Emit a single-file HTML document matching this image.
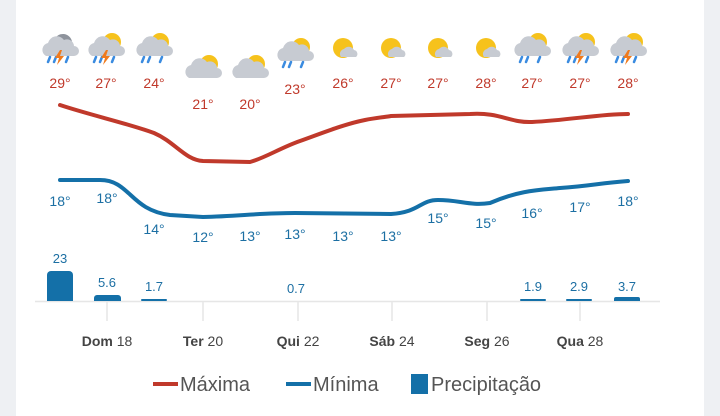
<!DOCTYPE html><html><head><meta charset="utf-8"><style>
body{margin:0;width:720px;height:416px;background:#fff;overflow:hidden;font-family:"Liberation Sans",sans-serif;position:relative}
.g{position:absolute;top:0;height:416px;background:#eef0f3}
</style></head><body>
<div class="g" style="left:0;width:16px"></div><div class="g" style="left:704px;width:16px"></div>
<svg width="720" height="416" style="position:absolute;left:0;top:0">
<defs>
<g id="sun"><circle cx="6" cy="-6" r="9" fill="#f6c21c"/></g>
<g id="cl"><path d="M-14 8 a7 7 0 0 1 2-13 a9 9 0 0 1 16-3 a7 7 0 0 1 10 6 a5 5 0 0 1 0 10z" fill="#c7cbd2"/></g>
<g id="rain"><path d="M-10 9l-2 5M-4 9l-2 5M8 9l-2 5" stroke="#3a8be0" stroke-width="2.5" stroke-linecap="round"/></g>
<g id="bolt"><path d="M0 2l-5 8h4l-2 7 7-9h-4l2-6z" fill="#f07a1c"/></g>
</defs>
<g>
<g transform="translate(60,48)"><path d="M-6 -6 a8 8 0 0 1 18 2 a5 5 0 0 1 0 8z" fill="#8e939c"/><use href="#cl"/><use href="#rain"/><use href="#bolt"/></g>
<g transform="translate(106,48)"><use href="#sun"/><use href="#cl"/><use href="#rain"/><use href="#bolt"/></g>
<g transform="translate(154,48)"><use href="#sun"/><use href="#cl"/><use href="#rain"/></g>
<g transform="translate(203,70)"><use href="#sun"/><use href="#cl"/></g>
<g transform="translate(250,70)"><use href="#sun"/><use href="#cl"/></g>
<g transform="translate(295,53)"><use href="#sun"/><use href="#cl"/><use href="#rain"/></g>
<g transform="translate(343,48)"><circle cx="0" cy="0" r="10" fill="#f6c21c"/><path d="M-2 9 a5 5 0 0 1 3-8 a6 6 0 0 1 10 1 a4 4 0 0 1 2 7z" fill="#c7cbd2"/></g>
<g transform="translate(391,48)"><circle cx="0" cy="0" r="10" fill="#f6c21c"/><path d="M-2 9 a5 5 0 0 1 3-8 a6 6 0 0 1 10 1 a4 4 0 0 1 2 7z" fill="#c7cbd2"/></g>
<g transform="translate(438,48)"><circle cx="0" cy="0" r="10" fill="#f6c21c"/><path d="M-2 9 a5 5 0 0 1 3-8 a6 6 0 0 1 10 1 a4 4 0 0 1 2 7z" fill="#c7cbd2"/></g>
<g transform="translate(486,48)"><circle cx="0" cy="0" r="10" fill="#f6c21c"/><path d="M-2 9 a5 5 0 0 1 3-8 a6 6 0 0 1 10 1 a4 4 0 0 1 2 7z" fill="#c7cbd2"/></g>
<g transform="translate(532,48)"><use href="#sun"/><use href="#cl"/><use href="#rain"/></g>
<g transform="translate(580,48)"><use href="#sun"/><use href="#cl"/><use href="#rain"/><use href="#bolt"/></g>
<g transform="translate(628,48)"><use href="#sun"/><use href="#cl"/><use href="#rain"/><use href="#bolt"/></g>
</g>
<g font-size="14" fill="#c0392b" text-anchor="middle">
<text x="60" y="88">29°</text><text x="106" y="88">27°</text><text x="154" y="88">24°</text><text x="203" y="109">21°</text><text x="250" y="109">20°</text><text x="295" y="94">23°</text><text x="343" y="88">26°</text><text x="391" y="88">27°</text><text x="438" y="88">27°</text><text x="486" y="88">28°</text><text x="532" y="88">27°</text><text x="580" y="88">27°</text><text x="628" y="88">28°</text>
</g>
<path d="M60 105 C90 115,130 124,154 133 C175 142,185 160,203 161 L250 162 C265 158,280 148,300 141 C325 132,345 124,365 120 C375 118,385 117,391 116 L470 114 C500 112,510 123,532 122 C570 120,600 114,628 114" fill="none" stroke="#c0392b" stroke-width="4" stroke-linecap="round"/>
<path d="M60 180 L100 180 C130 180,130 210,170 215 L203 217 C240 216,260 213,295 213 L391 214 C420 212,420 200,438 200 C460 200,470 206,490 203 C520 190,540 190,560 188 C590 186,600 183,628 181" fill="none" stroke="#1470a8" stroke-width="4" stroke-linecap="round"/>
<g font-size="14" fill="#1c6fa3" text-anchor="middle">
<text x="60" y="206">18°</text><text x="107" y="203">18°</text><text x="154" y="234">14°</text><text x="203" y="242">12°</text><text x="250" y="241">13°</text><text x="295" y="239">13°</text><text x="343" y="241">13°</text><text x="391" y="241">13°</text><text x="438" y="223">15°</text><text x="486" y="228">15°</text><text x="532" y="218">16°</text><text x="580" y="212">17°</text><text x="628" y="206">18°</text>
</g>
<line x1="35" y1="301.5" x2="660" y2="301.5" stroke="#e6e6e6" stroke-width="1.5"/>
<g stroke="#e6e6e6" stroke-width="1.5"><line x1="107" y1="302" x2="107" y2="321"/><line x1="203" y1="302" x2="203" y2="321"/><line x1="298" y1="302" x2="298" y2="321"/><line x1="392" y1="302" x2="392" y2="321"/><line x1="487" y1="302" x2="487" y2="321"/><line x1="580" y1="302" x2="580" y2="321"/></g>
<g fill="#1470a8">
<path d="M47 301 V275 a4 4 0 0 1 4-4 h18 a4 4 0 0 1 4 4 V301z"/>
<path d="M94 301 V298 a3 3 0 0 1 3-3 h21 a3 3 0 0 1 3 3 V301z"/>
<rect x="141" y="299" width="26" height="2" rx="1"/>
<rect x="520" y="299" width="26" height="2" rx="1"/>
<rect x="566" y="299" width="26" height="2" rx="1"/>
<path d="M614 301 V299 a2 2 0 0 1 2-2 h22 a2 2 0 0 1 2 2 V301z"/>
</g>
<g font-size="13" fill="#1c6fa3" text-anchor="middle">
<text x="60" y="263">23</text><text x="107" y="287">5.6</text><text x="154" y="291">1.7</text><text x="296" y="293">0.7</text><text x="533" y="291">1.9</text><text x="579" y="291">2.9</text><text x="627" y="291">3.7</text>
</g>
<g font-size="14" fill="#444" text-anchor="middle">
<text x="107" y="346"><tspan font-weight="bold">Dom</tspan> 18</text>
<text x="203" y="346"><tspan font-weight="bold">Ter</tspan> 20</text>
<text x="298" y="346"><tspan font-weight="bold">Qui</tspan> 22</text>
<text x="392" y="346"><tspan font-weight="bold">Sáb</tspan> 24</text>
<text x="487" y="346"><tspan font-weight="bold">Seg</tspan> 26</text>
<text x="580" y="346"><tspan font-weight="bold">Qua</tspan> 28</text>
</g>
<rect x="153" y="382" width="25" height="4" fill="#c0392b"/>
<rect x="286" y="382" width="25" height="4" fill="#1470a8"/>
<rect x="411" y="374" width="17" height="20" fill="#1470a8"/>
<g font-size="20" fill="#555"><text x="180" y="391">Máxima</text><text x="313" y="391">Mínima</text><text x="431" y="391">Precipitação</text></g>
</svg>
</body></html>
